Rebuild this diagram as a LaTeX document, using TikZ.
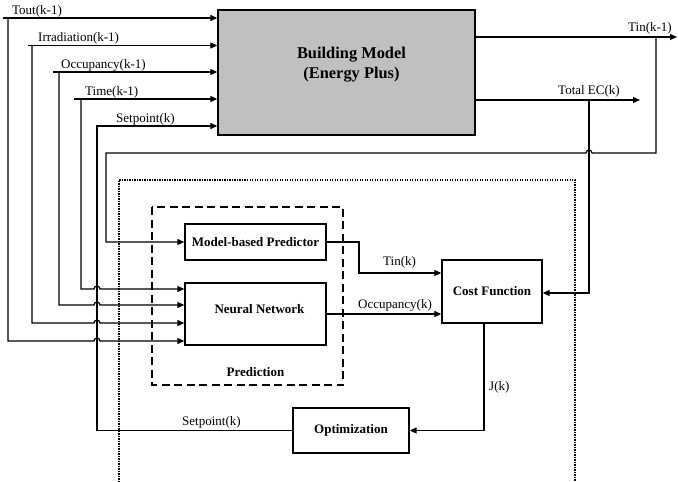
\documentclass[tikz,border=0pt]{standalone}
\usepackage{fontspec}
\setmainfont{Liberation Serif}
\usetikzlibrary{arrows.meta,calc}
\definecolor{bmgray}{RGB}{192,192,192}
\newcommand\smallfnt{\fontsize{13}{15}\selectfont}
\newcommand\bigfnt{\fontsize{16.4}{19.7}\selectfont}
\tikzset{
  wire/.style={line width=1.2pt, line join=miter},
  sig/.style={wire, -{Triangle[length=7pt,width=6pt]}},
  blk/.style={draw, line width=1.4pt, fill=white, inner sep=0pt, font=\smallfnt\bfseries, align=center},
  lbl/.style={inner sep=0pt, anchor=base west, font=\smallfnt},
}
\begin{document}
\begin{tikzpicture}[x=1pt,y=-1pt]
\useasboundingbox (0,0) rectangle (678,482);
% frames
\draw[dash pattern=on 1.3pt off 1.2pt, line width=1.2pt] (119,482) -- (119,180) -- (575,180) -- (575,482);
\draw[dash pattern=on 8pt off 4.5pt, line width=1.4pt] (152,207) rectangle (343,385);
% blocks
\node[blk, fill=bmgray, minimum width=257pt, minimum height=125pt, font=\bigfnt\bfseries] (bm) at (346.5,72.5)
  {\hspace*{10pt}Building Model\\\hspace*{10pt}(Energy Plus)\\\mbox{}};
\node[blk, minimum width=141pt, minimum height=36pt] (mbp) at (255.5,242) {Model-based Predictor};
\node[blk, minimum width=141pt, minimum height=62pt] (nn) at (255.5,314) {\hspace*{8pt}Neural Network\\[-5pt]\mbox{}};
\node[blk, minimum width=100pt, minimum height=63pt] (cf) at (492,291.5) {Cost Function};
\node[blk, minimum width=116pt, minimum height=45pt] (opt) at (351,430.5) {Optimization};
\node[inner sep=0pt, font=\smallfnt\bfseries] (pred) at (255.5,372) {Prediction};
% coordinates
\coordinate (t0) at (3,18);    \coordinate (tc) at (8,18);    \coordinate (td) at (8,341);
\coordinate (i0) at (28,45.5); \coordinate (ic) at (32,45.5); \coordinate (id) at (32,323);
\coordinate (o0) at (53,72);   \coordinate (oc) at (59,72);   \coordinate (od) at (59,305);
\coordinate (m0) at (74,99);   \coordinate (mc) at (81,99);   \coordinate (md) at (81,289);
\coordinate (spc) at (97,126);
\coordinate (tinE) at (677,37); \coordinate (fbA) at (656,37); \coordinate (fbB) at (656,153); \coordinate (fbC) at (106,153);
\coordinate (ecE) at (640,100); \coordinate (ecx) at (589,100); \coordinate (ecd) at (589,293);
\coordinate (mk) at (359,273);
\coordinate (jx) at (484,400);
% inputs to building model
\draw[sig] (t0) -- (bm.west |- t0);
\draw[sig] (i0) -- (bm.west |- i0);
\draw[sig] (o0) -- (bm.west |- o0);
\draw[sig] (m0) -- (bm.west |- m0);
% branches to neural network with jumps over setpoint line
\draw[sig] (tc) -- (td) -- ($(td -| spc)+(-3,0)$) arc[start angle=180,end angle=0,radius=3pt] -- (nn.west |- td);
\draw[sig] (ic) -- (id) -- ($(id -| spc)+(-3,0)$) arc[start angle=180,end angle=0,radius=3pt] -- (nn.west |- id);
\draw[sig] (oc) -- (od) -- ($(od -| spc)+(-3,0)$) arc[start angle=180,end angle=0,radius=3pt] -- (nn.west |- od);
\draw[sig] (mc) -- (md) -- ($(md -| spc)+(-3,0)$) arc[start angle=180,end angle=0,radius=3pt] -- (nn.west |- md);
% setpoint loop
\draw[sig] (opt.west) -- (opt.west -| spc) -- (spc) -- (bm.west |- spc);
% outputs of building model
\draw[sig] (bm.east |- tinE) -- (tinE);
\draw[sig] (fbA) -- (fbB) -- ($(fbB -| ecx)+(3,0)$) arc[start angle=0,end angle=180,radius=3pt] -- (fbC) -- (mbp.west -| fbC) -- (mbp.west);
\draw[sig] (bm.east |- ecE) -- (ecE);
\draw[sig] (ecx) -- (ecd) -- (cf.east |- ecd);
% predictions to cost function
\draw[sig] (mbp.east) -- (mbp.east -| mk) -- (mk) -- (cf.west |- mk);
\draw[sig] (nn.east) -- (cf.west |- nn.east);
% cost to optimization
\draw[sig] (cf.south -| jx) -- (jx |- opt.east) -- (opt.east);
% labels
\node[lbl] (lt) at (12,14) {Tout(k-1)};
\node[lbl] (li) at (38,41.5) {Irradiation(k-1)};
\node[lbl] (lo) at (61,68) {Occupancy(k-1)};
\node[lbl] (lm) at (85,95) {Time(k-1)};
\node[lbl] (ls) at (116,122) {Setpoint(k)};
\node[lbl] (ltin) at (628,31) {Tin(k-1)};
\node[lbl] (lec) at (558,94) {Total EC(k)};
\node[lbl] (ltk) at (383,265) {Tin(k)};
\node[lbl] (lok) at (358,308) {Occupancy(k)};
\node[lbl] (lj) at (489,390) {J(k)};
\node[lbl] (ls2) at (182,425) {Setpoint(k)};
\end{tikzpicture}
\end{document}
